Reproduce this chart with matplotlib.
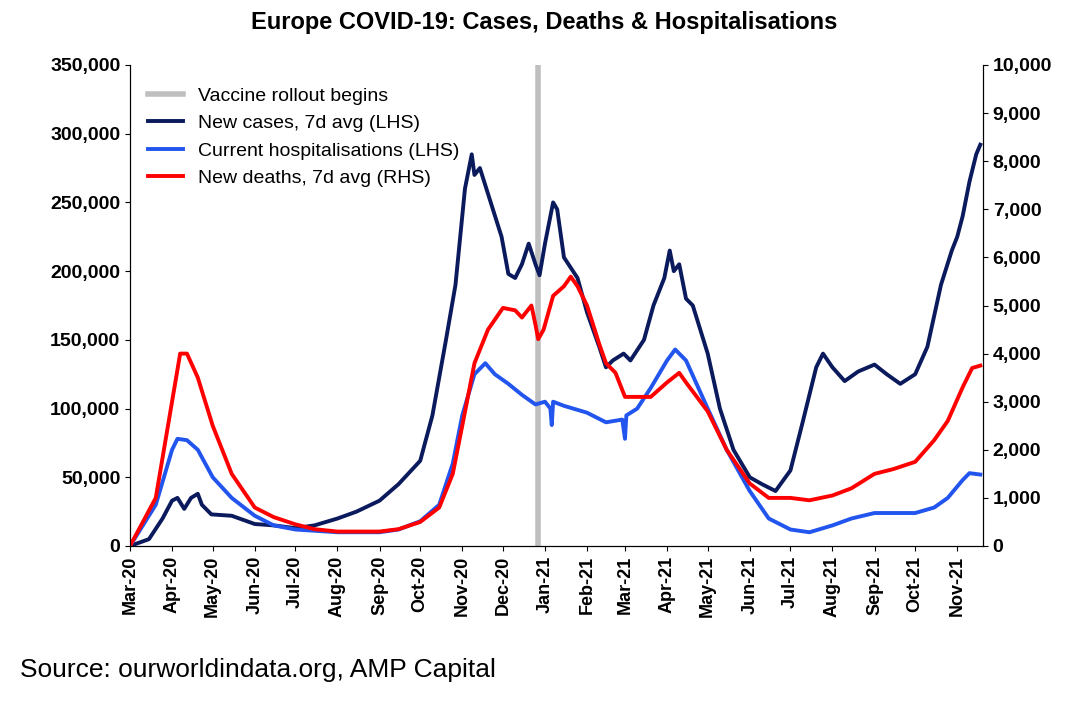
import numpy as np
import pandas as pd
import matplotlib as mpl
from matplotlib import pyplot as plt
import matplotlib.dates as mdates

mpl.rcParams['font.family'] = ['Liberation Sans', 'DejaVu Sans']

# New cases, 7d avg (thousands)
cases_d = ["2020-03-01","2020-03-15","2020-03-25","2020-04-01","2020-04-05","2020-04-10","2020-04-15","2020-04-20","2020-04-23","2020-04-30",
           "2020-05-15","2020-06-01","2020-06-15","2020-07-01","2020-07-15","2020-08-01","2020-08-15","2020-09-01","2020-09-15","2020-10-01",
           "2020-10-10","2020-10-20","2020-10-27","2020-11-03","2020-11-08","2020-11-10","2020-11-14","2020-11-22","2020-11-30","2020-12-05",
           "2020-12-10","2020-12-15","2020-12-20","2020-12-25","2020-12-28","2021-01-01","2021-01-07","2021-01-10","2021-01-15","2021-01-25",
           "2021-02-01","2021-02-10","2021-02-15","2021-02-20","2021-02-28","2021-03-05","2021-03-15","2021-03-22","2021-03-30","2021-04-03",
           "2021-04-06","2021-04-10","2021-04-15","2021-04-20","2021-05-01","2021-05-10","2021-05-20","2021-06-01","2021-06-10","2021-06-20",
           "2021-07-01","2021-07-10","2021-07-20","2021-07-25","2021-08-01","2021-08-10","2021-08-20","2021-09-01","2021-09-10","2021-09-20",
           "2021-10-01","2021-10-10","2021-10-20","2021-10-28","2021-11-01","2021-11-05","2021-11-10","2021-11-15","2021-11-18"]
cases_v = [0,5,20,33,35,27,35,38,30,23,22,16,15,13,15,20,25,33,45,62,
           95,150,190,260,285,270,275,250,225,198,195,205,220,205,197,220,250,245,210,195,
           170,145,130,135,140,135,150,175,195,215,200,205,180,175,140,100,70,50,45,40,
           55,90,130,140,130,120,127,132,125,118,125,145,190,215,225,240,265,285,292]

# Current hospitalisations (thousands)
hosp_d = ["2020-03-01","2020-03-20","2020-04-01","2020-04-05","2020-04-12","2020-04-20","2020-05-01","2020-05-15","2020-06-01","2020-06-15",
          "2020-07-01","2020-08-01","2020-09-01","2020-09-15","2020-10-01","2020-10-15","2020-10-25","2020-11-01","2020-11-10","2020-11-18",
          "2020-11-25","2020-12-05","2020-12-15","2020-12-25","2021-01-01","2021-01-05","2021-01-06","2021-01-07","2021-01-15","2021-02-01",
          "2021-02-15","2021-02-27","2021-03-01","2021-03-02","2021-03-10","2021-03-20","2021-04-01","2021-04-07","2021-04-15","2021-05-01",
          "2021-05-15","2021-06-01","2021-06-15","2021-07-01","2021-07-15","2021-08-01","2021-08-15","2021-09-01","2021-10-01","2021-10-15",
          "2021-10-25","2021-11-05","2021-11-10","2021-11-18"]
hosp_v = [0,30,70,78,77,70,50,35,22,15,12,10,10,12,18,30,60,95,125,133,
          125,118,110,103,105,100,88,105,102,97,90,92,78,95,100,115,135,143,135,100,
          70,40,20,12,10,15,20,24,24,28,35,48,53,52]

# New deaths, 7d avg (thousands, RHS)
deaths_d = ["2020-03-01","2020-03-20","2020-04-01","2020-04-07","2020-04-12","2020-04-20","2020-05-01","2020-05-15","2020-06-01","2020-06-15",
            "2020-07-01","2020-07-15","2020-08-01","2020-09-01","2020-09-15","2020-10-01","2020-10-15","2020-10-25","2020-11-01","2020-11-10",
            "2020-11-20","2020-12-01","2020-12-10","2020-12-15","2020-12-22","2020-12-25","2020-12-27","2020-12-31","2021-01-07","2021-01-15",
            "2021-01-20","2021-01-25","2021-02-01","2021-02-10","2021-02-15","2021-02-22","2021-03-01","2021-03-10","2021-03-20","2021-04-01",
            "2021-04-10","2021-04-15","2021-05-01","2021-05-15","2021-06-01","2021-06-15","2021-07-01","2021-07-15","2021-08-01","2021-08-15",
            "2021-09-01","2021-09-15","2021-10-01","2021-10-15","2021-10-25","2021-11-05","2021-11-12","2021-11-18"]
deaths_v = [0,1.0,3.0,4.0,4.0,3.5,2.5,1.5,0.8,0.6,0.45,0.35,0.3,0.3,0.35,0.5,0.8,1.5,2.5,3.8,
            4.5,4.95,4.9,4.75,5.0,4.6,4.3,4.5,5.2,5.4,5.6,5.4,5.0,4.2,3.8,3.6,3.1,3.1,3.1,3.4,
            3.6,3.4,2.8,2.0,1.3,1.0,1.0,0.95,1.05,1.2,1.5,1.6,1.75,2.2,2.6,3.3,3.7,3.75]

vaccine_date = "2020-12-27"

fig = plt.figure(figsize=(10.89, 7.04), dpi=100)
ax = fig.add_axes([130/1089, 1-546/704, 853/1089, 481/704])
ax2 = ax.twinx()
for a in (ax, ax2):
    a.spines['top'].set_visible(False)

ax.axvline(pd.Timestamp(vaccine_date), color='#bfbfbf', lw=4, label='Vaccine rollout begins')
ax.plot(pd.to_datetime(cases_d), np.array(cases_v)*1000, color='#0a1a5c', lw=2.8, label='New cases, 7d avg (LHS)')
ax.plot(pd.to_datetime(hosp_d), np.array(hosp_v)*1000, color='#2255ee', lw=2.8, label='Current hospitalisations (LHS)')
ax2.plot(pd.to_datetime(deaths_d), np.array(deaths_v)*1000, color='#ff0000', lw=2.8, label='New deaths, 7d avg (RHS)')
ax.plot([], [], color='#ff0000', lw=2.8, label='New deaths, 7d avg (RHS)')

ax.set_ylim(0, 350000)
ax2.set_ylim(0, 10000)
ax.set_yticks(np.arange(0, 350001, 50000))
ax2.set_yticks(np.arange(0, 10001, 1000))
ax.set_xlim(pd.Timestamp("2020-03-01"), pd.Timestamp("2021-11-20"))
ax.xaxis.set_major_locator(mdates.MonthLocator())
ax.xaxis.set_major_formatter(mdates.DateFormatter('%b-%y'))
fmt = mpl.ticker.FuncFormatter(lambda v, p: f'{int(v):,}')
ax.yaxis.set_major_formatter(fmt)
ax2.yaxis.set_major_formatter(fmt)
for lab in ax.get_xticklabels():
    lab.set_rotation(90)
ax.tick_params(axis='x', labelsize=13)
ax.tick_params(axis='y', labelsize=14)
ax2.tick_params(axis='y', labelsize=14)
for lab in ax.get_xticklabels() + ax.get_yticklabels() + ax2.get_yticklabels():
    lab.set_fontweight('bold')

ax.legend(loc='upper left', frameon=False, fontsize=14, handlelength=1.8,
          bbox_to_anchor=(0.0, 0.99), labelspacing=0.5)

fig.text(0.5, 1-22/704, 'Europe COVID-19: Cases, Deaths & Hospitalisations', ha='center', va='center',
         fontsize=17, fontweight='bold')
fig.text(20/1089, 1-670/704, 'Source: ourworldindata.org, AMP Capital', ha='left', va='center', fontsize=19)

fig.savefig('out.png')
